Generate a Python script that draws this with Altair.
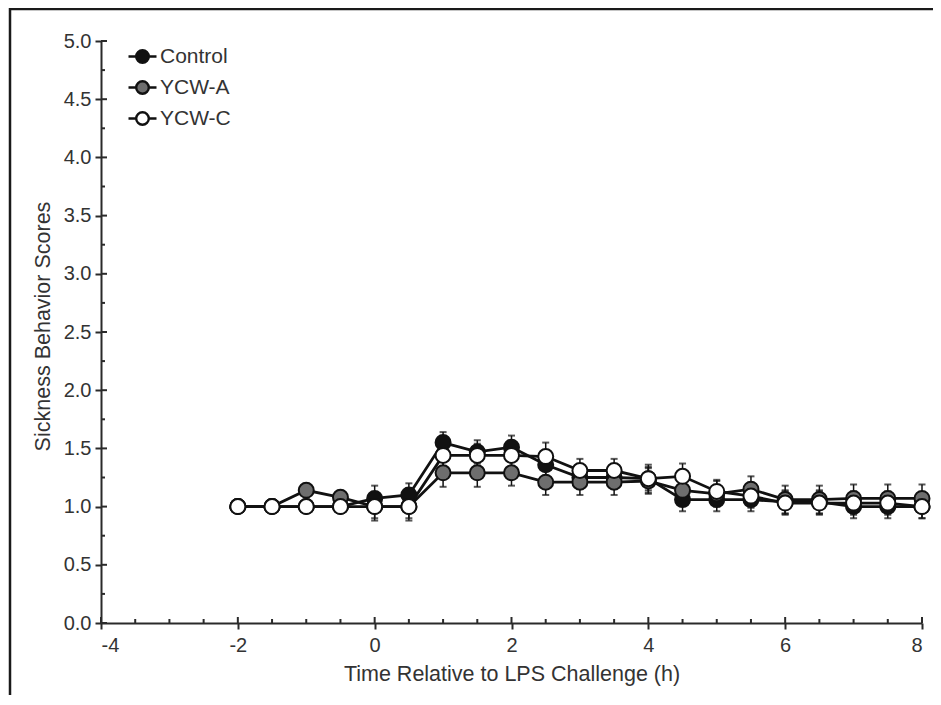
import altair as alt
import pandas as pd

# ---------------- data ----------------
times = [-2, -1.5, -1, -0.5, 0, 0.5, 1, 1.5, 2, 2.5, 3, 3.5, 4, 4.5, 5, 5.5, 6, 6.5, 7, 7.5, 8]
control = [1.0, 1.0, 1.0, 1.0, 1.07, 1.10, 1.55, 1.47, 1.51, 1.36, 1.25, 1.25, 1.24, 1.06, 1.06, 1.06, 1.04, 1.04, 1.0, 1.0, 1.0]
ycw_a = [1.0, 1.0, 1.14, 1.08, 1.0, 1.0, 1.29, 1.29, 1.29, 1.21, 1.21, 1.21, 1.22, 1.14, 1.11, 1.15, 1.06, 1.06, 1.07, 1.07, 1.07]
ycw_c = [1.0, 1.0, 1.0, 1.0, 1.0, 1.0, 1.44, 1.44, 1.44, 1.43, 1.31, 1.31, 1.24, 1.26, 1.13, 1.09, 1.03, 1.03, 1.03, 1.03, 1.0]
se_control = [0, 0, 0, 0, 0.11, 0.10, 0.09, 0.10, 0.10, 0.10, 0.10, 0.10, 0.10, 0.10, 0.10, 0.10, 0.10, 0.10, 0.10, 0.10, 0.10]
se_a = [0, 0, 0, 0, 0.10, 0.10, 0.12, 0.12, 0.11, 0.11, 0.11, 0.11, 0.11, 0.11, 0.11, 0.11, 0.12, 0.12, 0.12, 0.12, 0.12]
se_c = [0, 0, 0, 0, 0.12, 0.12, 0.10, 0.10, 0.10, 0.12, 0.10, 0.10, 0.12, 0.11, 0.10, 0.10, 0.10, 0.10, 0.10, 0.10, 0.10]

series_names = ["Control", "YCW-A", "YCW-C"]
series_fill = ["#111111", "#6e6e6e", "#ffffff"]

x_major = [-4, -2, 0, 2, 4, 6, 8]
x_minor = [-3.5, -3, -2.5, -1.5, -1, -0.5, 0.5, 1, 1.5, 2.5, 3, 3.5, 4.5, 5, 5.5, 6.5, 7, 7.5]
y_major = [0.0, 0.5, 1.0, 1.5, 2.0, 2.5, 3.0, 3.5, 4.0, 4.5, 5.0]
y_minor = [0.25, 0.75, 1.25, 1.75, 2.25, 2.75, 3.25, 3.75, 4.25, 4.75]

x_title = "Time Relative to LPS Challenge (h)"
y_title = "Sickness Behavior Scores"

# ---------------- tables ----------------
rows = []
for name, vals, ses in zip(series_names, [control, ycw_a, ycw_c], [se_control, se_a, se_c]):
    for t, v, s in zip(times, vals, ses):
        rows.append({"series": name, "time": t, "score": v, "lo": v - s, "hi": v + s, "se": s})
df = pd.DataFrame(rows)
df_err = df[df["se"] > 0]

W, H = 821, 582
FONT = "Liberation Sans"
TXT = "#333333"
AX = "#2a2a2a"

xscale = alt.Scale(domain=[-4, 8], nice=False, zero=False)
yscale = alt.Scale(domain=[0, 5], nice=False, zero=True)

xaxis = alt.Axis(values=x_major, tickSize=6, tickWidth=2, tickColor=AX, domainColor=AX, domainWidth=2,
                 grid=False, labelFont=FONT, labelFontSize=20, labelColor=TXT, labelPadding=6,
                 labelExpr="'' + datum.value",
                 titleFont=FONT, titleFontSize=21.5, titleFontWeight="normal", titleColor=TXT, titlePadding=8,
                 title=x_title)
yaxis = alt.Axis(values=y_major, tickSize=6, tickWidth=2, tickColor=AX, domainColor=AX, domainWidth=2,
                 grid=False, labelFont=FONT, labelFontSize=20, labelColor=TXT, labelPadding=4,
                 titleFont=FONT, titleFontSize=21.5, titleFontWeight="normal", titleColor=TXT, titlePadding=9,
                 titleY=285, title=y_title, format=".1f")

X = alt.X("time:Q", scale=xscale, axis=xaxis)
Y = alt.Y("score:Q", scale=yscale, axis=yaxis)

legend_path = ("M-1,0L-0.45,0M0.45,0L1,0"
               "M-0.45,0A0.45,0.45,0,1,0,0.45,0A0.45,0.45,0,1,0,-0.45,0Z")

lines = alt.Chart(df).mark_line(color="#111111", strokeWidth=2.8).encode(
    x=X, y=Y, detail="series:N", order="time:Q")

err_rule = alt.Chart(df_err).mark_rule(color="#111111", strokeWidth=1.5).encode(
    x=X, y=alt.Y("lo:Q", scale=yscale, axis=yaxis), y2="hi:Q")
cap_hi = alt.Chart(df_err).mark_tick(color="#111111", orient="horizontal", size=7, thickness=2).encode(
    x=X, y=alt.Y("hi:Q", scale=yscale, axis=yaxis))
cap_lo = alt.Chart(df_err).mark_tick(color="#111111", orient="horizontal", size=7, thickness=2).encode(
    x=X, y=alt.Y("lo:Q", scale=yscale, axis=yaxis))

points = alt.Chart(df).mark_point(shape="circle", filled=True, size=225, stroke="#111111",
                                  strokeWidth=2, opacity=1).encode(
    x=X, y=Y,
    fill=alt.Fill("series:N",
                  scale=alt.Scale(domain=series_names, range=series_fill),
                  sort=series_names,
                  legend=alt.Legend(title=None, orient="none", legendX=26, legendY=0,
                                    symbolType=legend_path, symbolSize=784,
                                    symbolStrokeColor="#111111", symbolStrokeWidth=2.4,
                                    symbolOpacity=1,
                                    labelFont=FONT, labelFontSize=21, labelColor=TXT,
                                    labelOffset=2, rowPadding=4, padding=0)))

# inner parts of major ticks and minor ticks
x_in_major = alt.Chart(pd.DataFrame({"time": x_major})).mark_rule(color=AX, strokeWidth=2).encode(
    x=X, y=alt.value(H), y2=alt.value(H - 6))
x_in_minor = alt.Chart(pd.DataFrame({"time": x_minor})).mark_rule(color=AX, strokeWidth=2).encode(
    x=X, y=alt.value(H), y2=alt.value(H - 4))
y_in_major = alt.Chart(pd.DataFrame({"score": y_major})).mark_rule(color=AX, strokeWidth=2).encode(
    y=Y, x=alt.value(0), x2=alt.value(6))
y_in_minor = alt.Chart(pd.DataFrame({"score": y_minor})).mark_rule(color=AX, strokeWidth=2).encode(
    y=Y, x=alt.value(0), x2=alt.value(4))

# page frame (left and top border lines)
one = pd.DataFrame({"a": [0]})
frame_left = alt.Chart(one).mark_rule(color="#1a1a1a", strokeWidth=2.5).encode(
    x=alt.value(-91), y=alt.value(-33), y2=alt.value(H + 80))
frame_top = alt.Chart(one).mark_rule(color="#1a1a1a", strokeWidth=2.5).encode(
    x=alt.value(-92), x2=alt.value(W + 20), y=alt.value(-32))

chart = alt.layer(
    frame_left, frame_top,
    x_in_major, x_in_minor, y_in_major, y_in_minor,
    lines, err_rule, cap_hi, cap_lo, points
).properties(
    width=W, height=H,
    autosize=alt.AutoSizeParams(type="none"),
    padding={"left": 93, "top": 33, "right": 11, "bottom": 72},
    background="white"
).configure_view(stroke=None)

chart.save("out.html", embed_options={"renderer": "svg", "actions": False})
